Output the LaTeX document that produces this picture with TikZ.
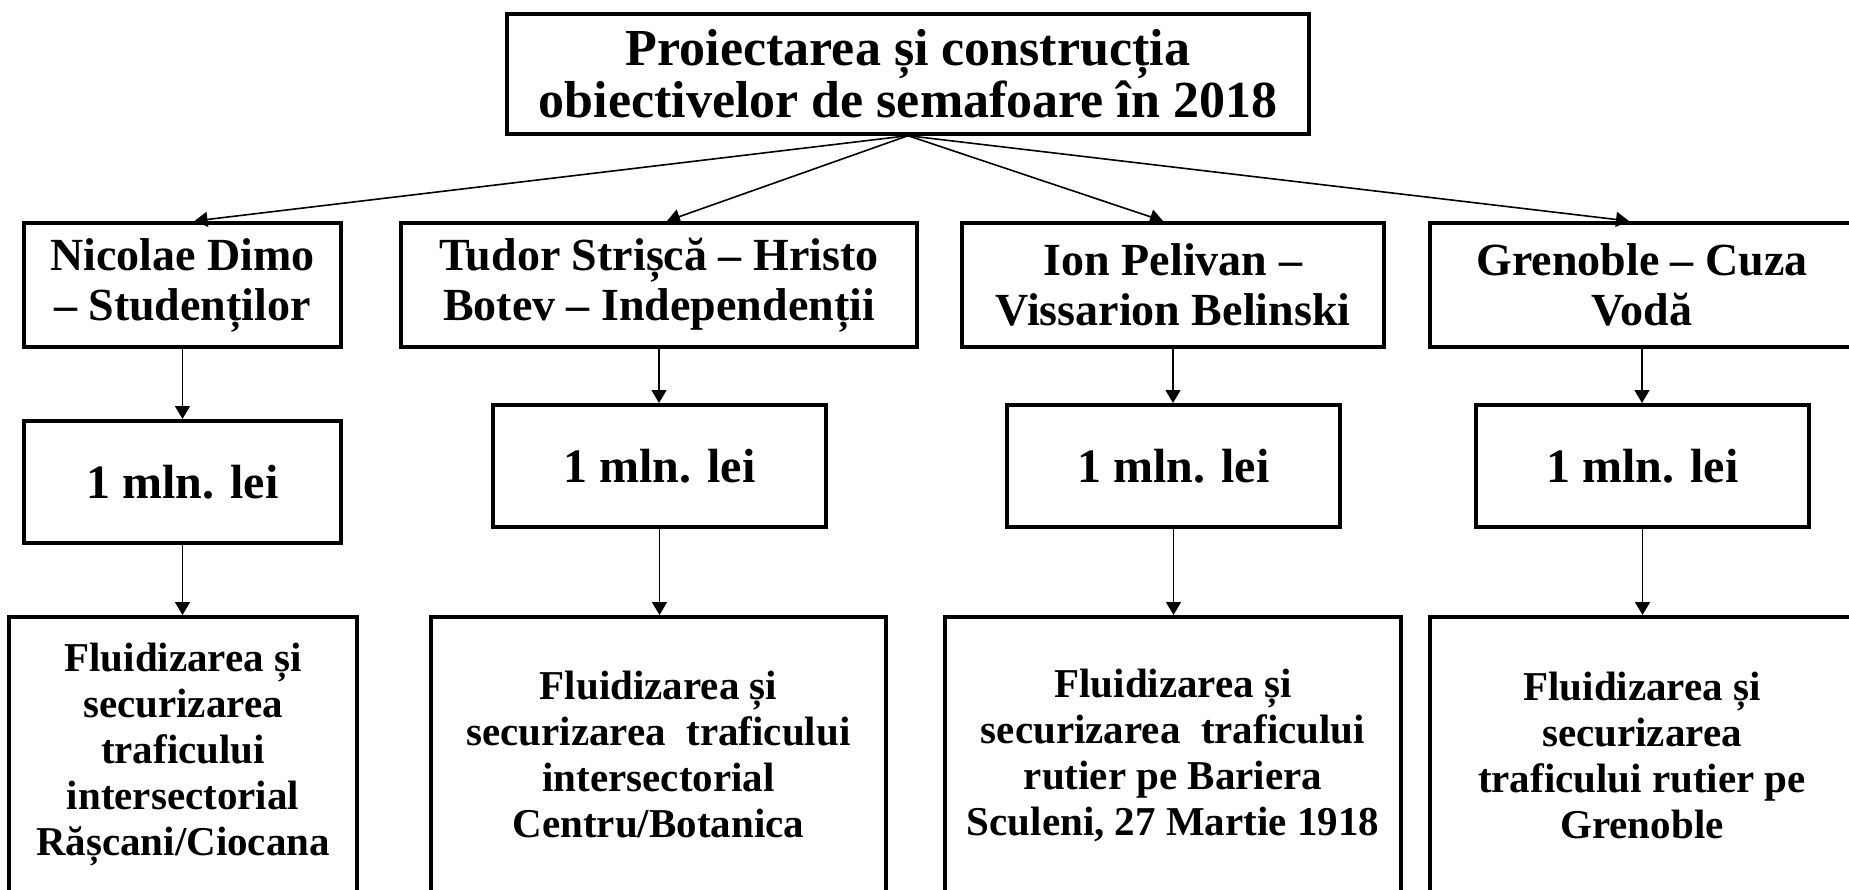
\documentclass[tikz,border=0pt]{standalone}
\usepackage{fontspec}
\setmainfont{Liberation Serif}
\usetikzlibrary{arrows.meta}
\begin{document}
\begin{tikzpicture}[x=1pt,y=-1pt,
  box/.style={draw=black, line width=4pt, rectangle, inner sep=0pt, align=center},
  ttl/.style={box, font=\fontsize{52}{52}\selectfont\bfseries, minimum width=802pt, minimum height=120pt},
  rowone/.style={box, font=\fontsize{46}{50}\selectfont\bfseries, minimum height=124pt},
  rowtwo/.style={box, font=\fontsize{48}{50}\selectfont\bfseries, minimum width=333pt, minimum height=122pt},
  rowthree/.style={box, font=\fontsize{41}{46}\selectfont\bfseries, minimum height=276pt},
  conn/.style={line width=1.6pt, -{Triangle[width=15pt,length=13pt]}}
]
\useasboundingbox (0,0) rectangle (1849,890);
\fill[white] (0,0) rectangle (1849,890);
\clip (0,0) rectangle (1849,890);

% title
\node[ttl] (top) at (908,73.7) {Proiectarea și construcția\\obiectivelor de semafoare în 2018};

% row 1
\node[rowone, minimum width=317pt] (a1) at (182.5,285) {Nicolae Dimo\\– Studenților};
\node[rowone, minimum width=516pt] (b1) at (659,285) {Tudor Strișcă – Hristo\\Botev – Independenții};
\node[rowone, minimum width=422pt] (c1) at (1173,285) {Ion Pelivan –\\Vissarion Belinski};
\node[rowone, minimum width=424pt] (d1) at (1642,285) {Grenoble – Cuza\\Vodă};

% row 2
\node[rowtwo, minimum width=317pt] (a2) at (182.5,482) {1 mln. lei};
\node[rowtwo] (b2) at (659.5,466) {1 mln. lei};
\node[rowtwo] (c2) at (1173.5,466) {1 mln. lei};
\node[rowtwo] (d2) at (1642.5,466) {1 mln. lei};

% row 3
\node[rowthree, minimum width=348pt] (a3) at (183,755) {Fluidizarea și\\securizarea\\traficului\\intersectorial\\Rășcani/Ciocana};
\node[rowthree, minimum width=455pt] (b3) at (658.5,755) {Fluidizarea și\\securizarea~ traficului\\intersectorial\\Centru/Botanica};
\node[rowthree, minimum width=456pt] (c3) at (1173,755) {Fluidizarea și\\securizarea~ traficului\\rutier pe Bariera\\Sculeni, 27 Martie 1918};
\node[rowthree, minimum width=424pt] (d3) at (1642,755) {Fluidizarea și\\securizarea\\traficului rutier pe\\Grenoble};

% connectors
\draw[conn] (top.south) -- ([xshift=12pt]a1.north);
\draw[conn] (top.south) -- ([xshift=8pt]b1.north);
\draw[conn] (top.south) -- ([xshift=-10pt]c1.north);
\draw[conn] (top.south) -- ([xshift=-13pt]d1.north);

\draw[conn] (a1.south) -- (a2.north);
\draw[conn] (b1.south) -- (b1.south |- b2.north);
\draw[conn] (c1.south) -- (c1.south |- c2.north);
\draw[conn] (d1.south) -- (d1.south |- d2.north);

\draw[conn] (a2.south) -- (a2.south |- a3.north);
\draw[conn] (b2.south) -- (b2.south |- b3.north);
\draw[conn] (c2.south) -- (c2.south |- c3.north);
\draw[conn] (d2.south) -- (d2.south |- d3.north);
\end{tikzpicture}
\end{document}
